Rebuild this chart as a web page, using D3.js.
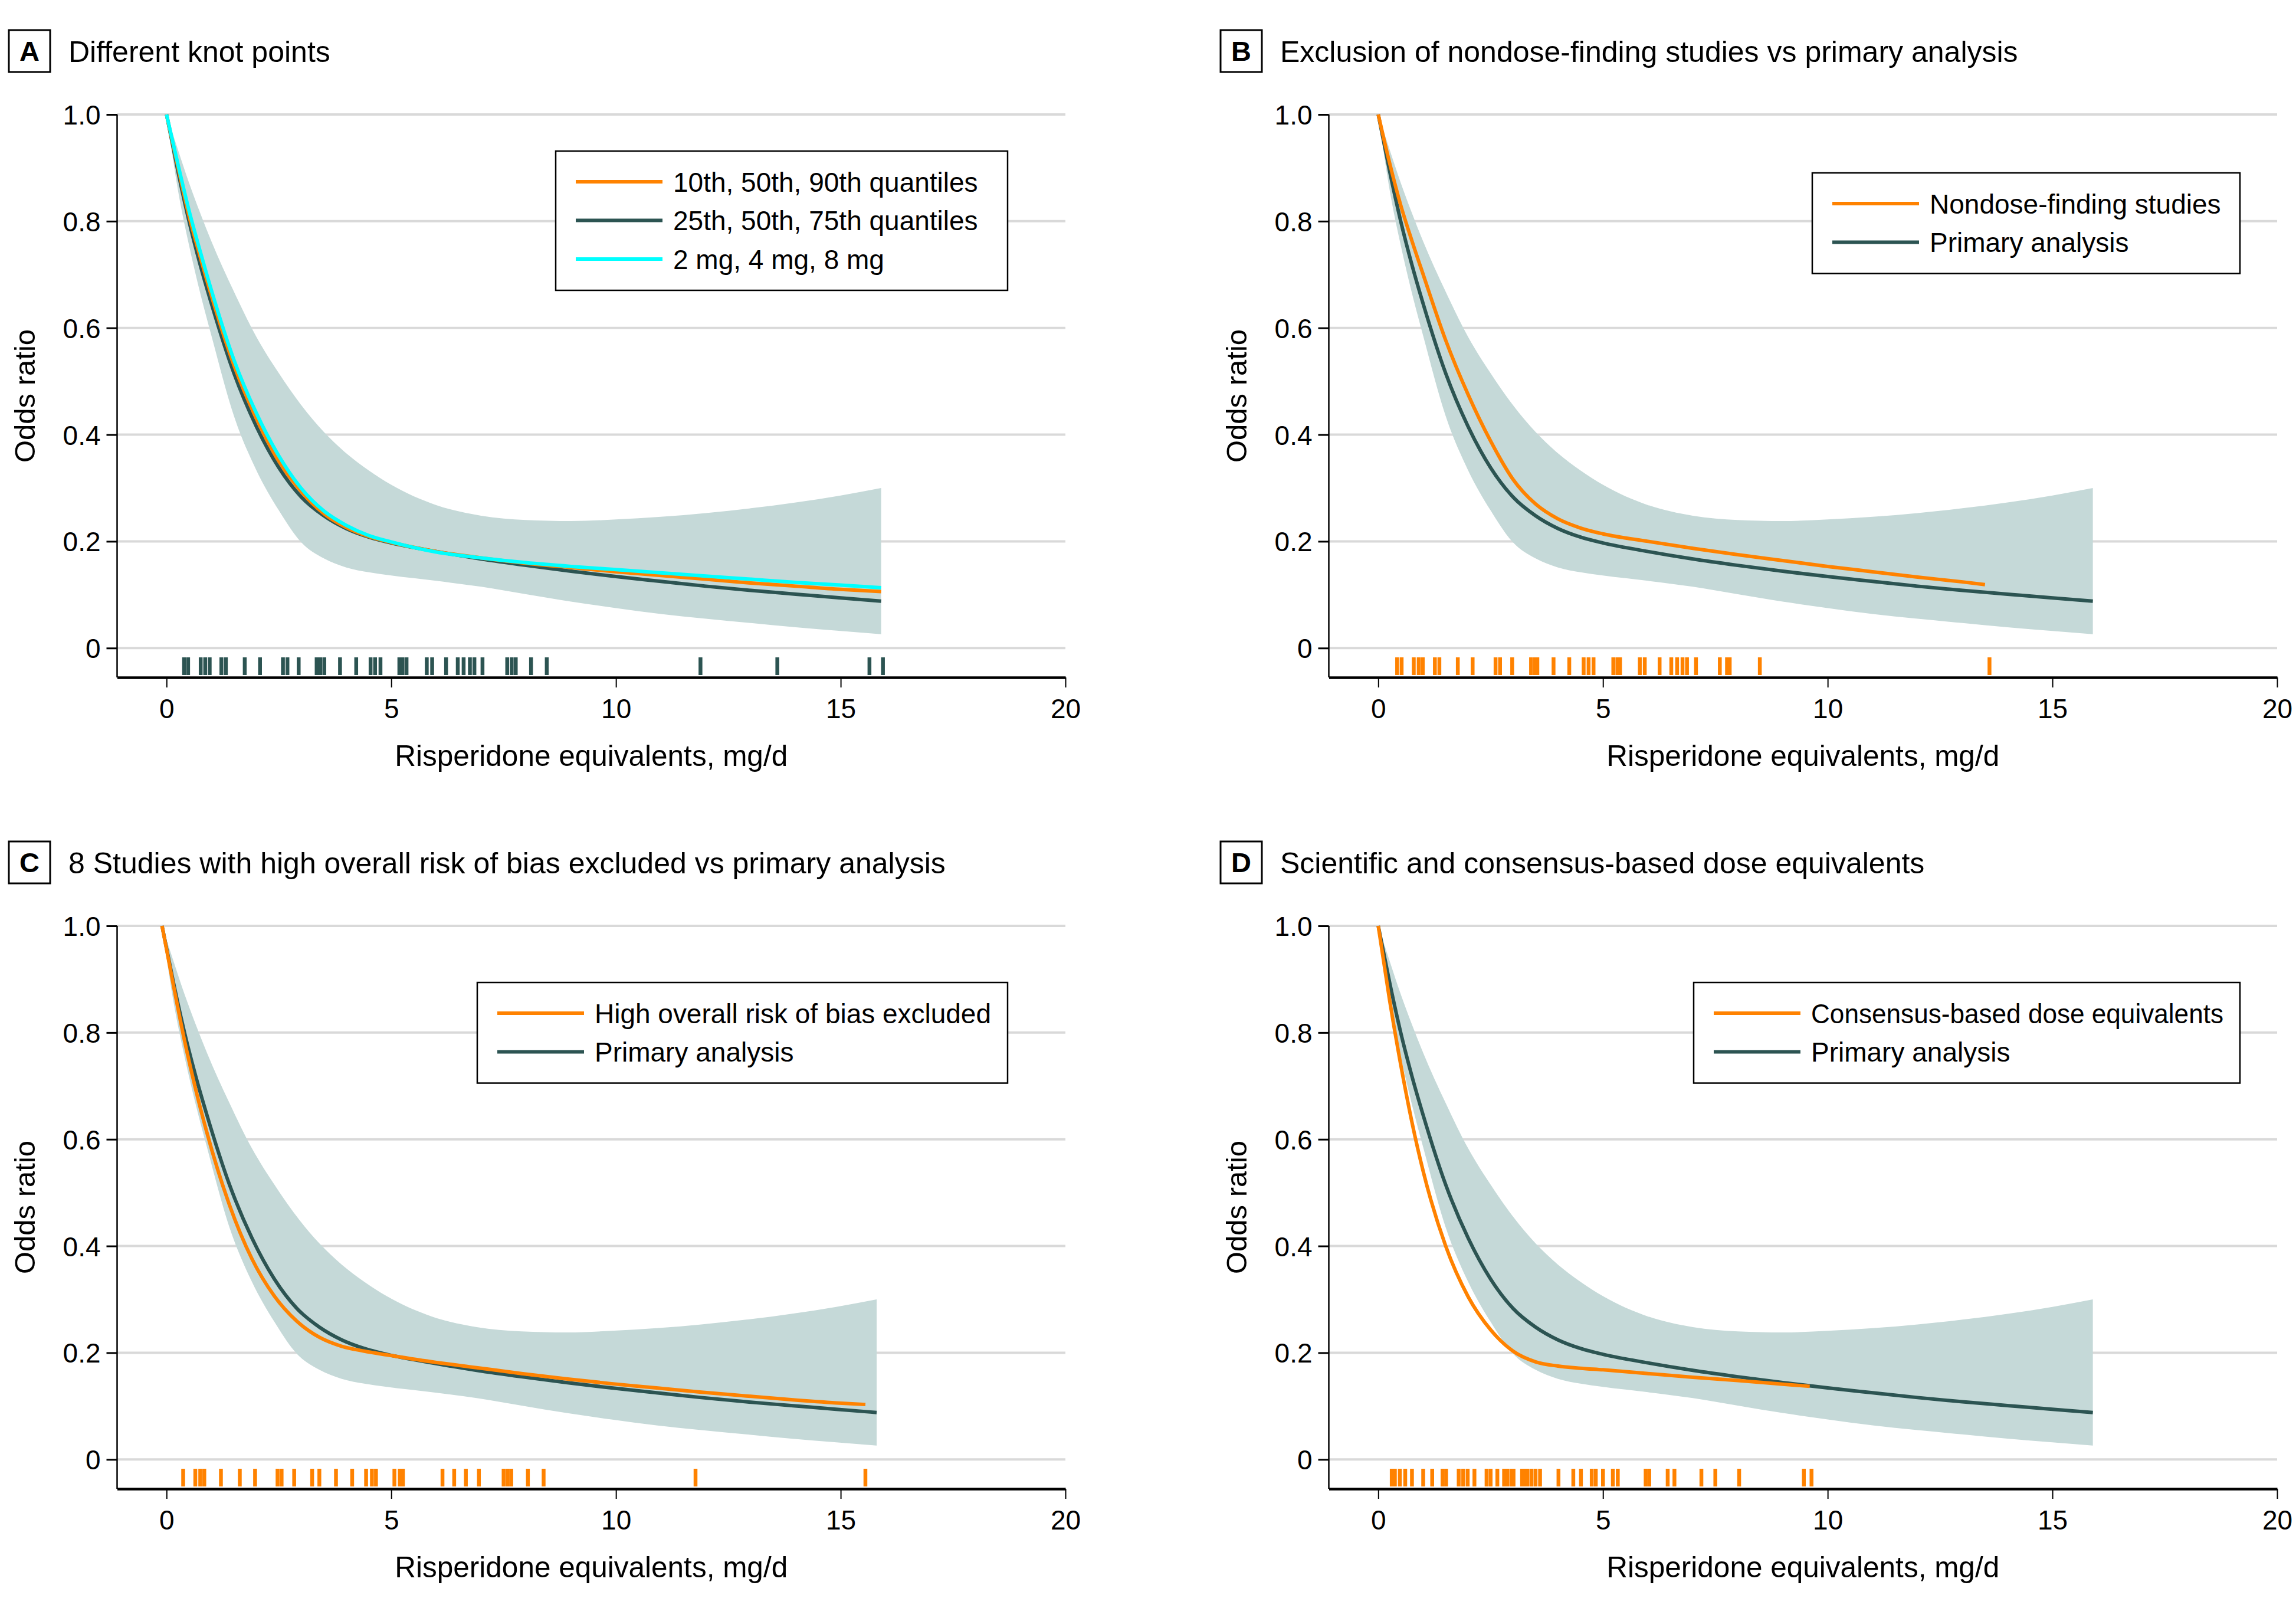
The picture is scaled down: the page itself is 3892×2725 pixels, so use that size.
<!DOCTYPE html>
<html><head><meta charset="utf-8">
<script src="https://cdn.jsdelivr.net/npm/d3@7"></script>
<style>
body{margin:0;background:#fff}
svg{display:block;background:#fff}
text{font-family:"Liberation Sans",Arial,sans-serif;fill:#000}
</style>
</head><body>
<svg id="chart" width="3892" height="2725"></svg>
<script>
// ---------- DATA ----------
const xTicks = [0, 5, 10, 15, 20];
const yTicks = [0, 0.2, 0.4, 0.6, 0.8, 1.0];

// primary analysis curve and its confidence band (shared by all panels)
const xGrid     = [0,0.25,0.5,0.75,1,1.5,2,2.5,3,3.5,4,4.5,5,6,7,8,9,10,11,12,13,14,15,15.9];
const primaryOR = [1.0,0.895,0.80,0.718,0.645,0.515,0.415,0.338,0.283,0.248,0.224,0.208,0.197,0.181,0.167,0.155,0.144,0.134,0.125,0.116,0.108,0.101,0.094,0.088];
const ciUpper   = [1.0,0.935,0.872,0.815,0.762,0.668,0.583,0.515,0.455,0.405,0.365,0.333,0.306,0.268,0.248,0.24,0.238,0.241,0.246,0.253,0.262,0.273,0.286,0.30];
const ciLower   = [1.0,0.86,0.755,0.665,0.585,0.435,0.333,0.258,0.198,0.168,0.151,0.142,0.136,0.126,0.115,0.101,0.087,0.075,0.064,0.055,0.047,0.039,0.032,0.026];

// Panel A: other knot choices
const knots1090 = [1.0,0.903,0.81,0.733,0.66,0.53,0.43,0.35,0.293,0.252,0.226,0.209,0.198,0.181,0.169,0.159,0.151,0.143,0.136,0.129,0.122,0.116,0.110,0.106];
const knotsMg   = [1.0,0.908,0.82,0.743,0.67,0.54,0.44,0.36,0.299,0.257,0.23,0.211,0.199,0.18,0.169,0.16,0.153,0.147,0.141,0.135,0.129,0.123,0.118,0.113];

// Panel B: nondose-finding studies
const nondoseX  = [0,0.25,0.5,0.75,1,1.5,2,2.5,3,3.5,4,4.5,5,6,7,8,9,10,11,12,13,13.5];
const nondoseOR = [1.0,0.91,0.83,0.763,0.70,0.577,0.475,0.388,0.316,0.27,0.242,0.225,0.214,0.2,0.187,0.175,0.164,0.153,0.143,0.133,0.124,0.119];

// Panel C: high risk of bias excluded
const robX  = [0,0.25,0.5,0.75,1,1.5,2,2.5,3,3.5,4,4.5,5,6,7,8,9,10,11,12,13,14,15,15.65];
const robOR = [1.0,0.89,0.785,0.693,0.612,0.477,0.376,0.306,0.259,0.229,0.212,0.203,0.196,0.183,0.172,0.161,0.151,0.142,0.134,0.126,0.119,0.112,0.106,0.103];
const panelCShift = -0.1; // curves in panel C sit slightly left of the axis origin

// Panel D: consensus-based dose equivalents
const consensusX  = [0,0.25,0.5,0.75,1,1.5,2,2.5,3,3.5,4,4.5,5,6,7,8,9,9.6];
const consensusOR = [1.0,0.862,0.74,0.632,0.54,0.40,0.305,0.243,0.203,0.183,0.175,0.171,0.168,0.161,0.154,0.148,0.141,0.137];

// rug (study doses)
const rugA = [0.39,0.48,0.76,0.86,0.96,1.22,1.32,1.74,2.08,2.59,2.69,2.94,3.34,3.42,3.51,3.86,4.22,4.54,4.64,4.76,5.18,5.25,5.34,5.79,5.91,6.22,6.48,6.61,6.75,6.85,7.03,7.58,7.68,7.77,8.11,8.46,11.88,13.59,15.64,15.94];
const rugB = [0.42,0.52,0.79,0.90,0.99,1.26,1.36,1.77,2.10,2.61,2.71,2.98,3.40,3.49,3.54,3.90,4.25,4.57,4.68,4.79,5.23,5.32,5.38,5.82,5.93,6.26,6.52,6.65,6.77,6.87,7.07,7.60,7.76,7.82,8.49,13.6];
const rugC = [0.37,0.64,0.75,0.84,1.21,1.63,1.97,2.47,2.56,2.84,3.24,3.40,3.77,4.13,4.44,4.57,4.66,5.07,5.19,5.26,6.14,6.40,6.66,6.95,7.50,7.59,7.67,8.04,8.39,11.77,15.55];
const rugD = [0.30,0.37,0.48,0.60,0.75,1.00,1.20,1.43,1.51,1.79,1.89,1.99,2.14,2.41,2.50,2.65,2.80,2.87,2.96,3.01,3.20,3.24,3.32,3.41,3.50,3.60,4.01,4.34,4.51,4.75,4.84,5.00,5.22,5.33,5.95,6.03,6.44,6.59,7.19,7.50,8.03,9.47,9.64];

const panelLetters = ["A","B","C","D"];
const panelTitles = [
  "Different knot points",
  "Exclusion of nondose-finding studies vs primary analysis",
  "8 Studies with high overall risk of bias excluded vs primary analysis",
  "Scientific and consensus-based dose equivalents"
];
const xAxisTitle = "Risperidone equivalents, mg/d";
const yAxisTitle = "Odds ratio";

// ---------- STYLE / LAYOUT ----------
const DARK = "#2c5452", ORANGE = "#ff8200", CYAN = "#00ffff", BAND = "#c5d9d8", GRID = "#d9d9d9";

const panels = [
  {ox:0, oy:0, shift:0, rug:rugA, rugColor:DARK, legend:{left:942, right:1708, top:256},
   series:[
     {name:"10th, 50th, 90th quantiles", x:xGrid, y:knots1090, color:ORANGE, order:1},
     {name:"25th, 50th, 75th quantiles", x:xGrid, y:primaryOR, color:DARK, order:0},
     {name:"2 mg, 4 mg, 8 mg", x:xGrid, y:knotsMg, color:CYAN, order:2}]},
  {ox:2054, oy:0, shift:0, rug:rugB, rugColor:ORANGE, legend:{left:1018, right:1743, top:293},
   series:[
     {name:"Nondose-finding studies", x:nondoseX, y:nondoseOR, color:ORANGE, order:1},
     {name:"Primary analysis", x:xGrid, y:primaryOR, color:DARK, order:0}]},
  {ox:0, oy:1375, shift:panelCShift, rug:rugC, rugColor:ORANGE, legend:{left:809, right:1708, top:290},
   series:[
     {name:"High overall risk of bias excluded", x:robX, y:robOR, color:ORANGE, order:1},
     {name:"Primary analysis", x:xGrid, y:primaryOR, color:DARK, order:0}]},
  {ox:2054, oy:1375, shift:0, rug:rugD, rugColor:ORANGE, legend:{left:817, right:1743, top:290},
   series:[
     {name:"Consensus-based dose equivalents", x:consensusX, y:consensusOR, color:ORANGE, order:1},
     {name:"Primary analysis", x:xGrid, y:primaryOR, color:DARK, order:0}]}
];

const svg = d3.select("#chart");
svg.append("rect").attr("width",3892).attr("height",2725).attr("fill","#fff");

const x = d3.scaleLinear().domain([-1.1, 20]).range([198.5, 1806]);
const y = d3.scaleLinear().domain([-0.055, 1.0]).range([1148, 194]);

panels.forEach((p, i) => {
  const g = svg.append("g").attr("transform", `translate(${p.ox},${p.oy})`);

  // title
  g.append("rect").attr("x",15).attr("y",51).attr("width",70).attr("height",71)
    .attr("fill","none").attr("stroke","#000").attr("stroke-width",3);
  g.append("text").attr("x",50).attr("y",103).attr("text-anchor","middle")
    .attr("font-size",47).attr("font-weight","bold").text(panelLetters[i]);
  g.append("text").attr("x",116).attr("y",105).attr("font-size",50).text(panelTitles[i]);

  // gridlines
  g.append("g").selectAll("line").data(yTicks).join("line")
    .attr("x1", x.range()[0]).attr("x2", x.range()[1])
    .attr("y1", d => y(d)).attr("y2", d => y(d))
    .attr("stroke", GRID).attr("stroke-width", 4);

  // band
  const band = xGrid.map((v, k) => [v, ciLower[k], ciUpper[k]]);
  g.append("path").datum(band)
    .attr("fill", BAND)
    .attr("d", d3.area().x(d => x(d[0] + p.shift)).y0(d => y(d[1])).y1(d => y(d[2])).curve(d3.curveMonotoneX));

  // curves
  const line = d3.line().x(d => x(d[0] + p.shift)).y(d => y(d[1])).curve(d3.curveMonotoneX);
  p.series.slice().sort((a,b) => a.order - b.order).forEach(s => {
    g.append("path").datum(s.x.map((v,k) => [v, s.y[k]]))
      .attr("fill","none").attr("stroke", s.color).attr("stroke-width", 6)
      .attr("stroke-linejoin","round").attr("d", line);
  });

  // rug
  g.append("g").selectAll("line").data(p.rug).join("line")
    .attr("x1", d => x(d)).attr("x2", d => x(d))
    .attr("y1", 1114).attr("y2", 1144)
    .attr("stroke", p.rugColor).attr("stroke-width", 6.5);

  // y axis
  const ya = g.append("g").attr("transform", `translate(${x.range()[0]},0)`)
    .call(d3.axisLeft(y).tickValues(yTicks).tickSize(18).tickSizeOuter(0)
      .tickFormat(d => d === 0 ? "0" : d3.format(".1f")(d)));
  ya.select(".domain").attr("stroke","#000").attr("stroke-width",2.5)
    .attr("d", `M0,${y(1.0)}V${y.range()[0]}`);
  ya.selectAll(".tick line").attr("stroke","#000").attr("stroke-width",3);
  ya.selectAll(".tick text").attr("font-size",46).attr("font-family","Liberation Sans, Arial, sans-serif")
    .attr("x",-28).attr("dy","0.36em");

  // x axis
  const xa = g.append("g").attr("transform", `translate(0,${y.range()[0]})`)
    .call(d3.axisBottom(x).tickValues(xTicks).tickSize(17).tickSizeOuter(0).tickFormat(d3.format("d")));
  xa.select(".domain").attr("stroke","#000").attr("stroke-width",4.5);
  xa.selectAll(".tick line").attr("stroke","#000").attr("stroke-width",2);
  xa.selectAll(".tick text").attr("font-size",46).attr("font-family","Liberation Sans, Arial, sans-serif")
    .attr("y",69).attr("dy",0);

  // axis titles
  g.append("text").attr("x", (x.range()[0] + x.range()[1]) / 2).attr("y", 1298)
    .attr("text-anchor","middle").attr("font-size",49.5).text(xAxisTitle);
  g.append("text").attr("transform", `translate(59,${(y.range()[0]+y.range()[1])/2}) rotate(-90)`)
    .attr("text-anchor","middle").attr("font-size",49).text(yAxisTitle);

  // legend
  const L = p.legend;
  const lg = g.append("g");
  const bh = 52 + (p.series.length - 1) * 65.5 + 53;
  lg.append("rect").attr("x", L.left).attr("y", L.top)
    .attr("width", L.right - L.left).attr("height", bh)
    .attr("fill","#fff").attr("stroke","#000").attr("stroke-width",2.5);
  const avail = (L.right - 28) - (L.left + 199);
  p.series.forEach((s, k) => {
    const cy = L.top + 52 + k * 65.5;
    lg.append("line").attr("x1", L.left + 34).attr("x2", L.left + 181)
      .attr("y1", cy).attr("y2", cy).attr("stroke", s.color).attr("stroke-width", 6);
    const t = lg.append("text").attr("x", L.left + 199).attr("y", cy + 16.5)
      .attr("font-size",46).text(s.name);
    if (t.node().getComputedTextLength() > avail) {
      t.attr("textLength", avail).attr("lengthAdjust", "spacingAndGlyphs");
    }
  });
});
</script>
</body></html>
